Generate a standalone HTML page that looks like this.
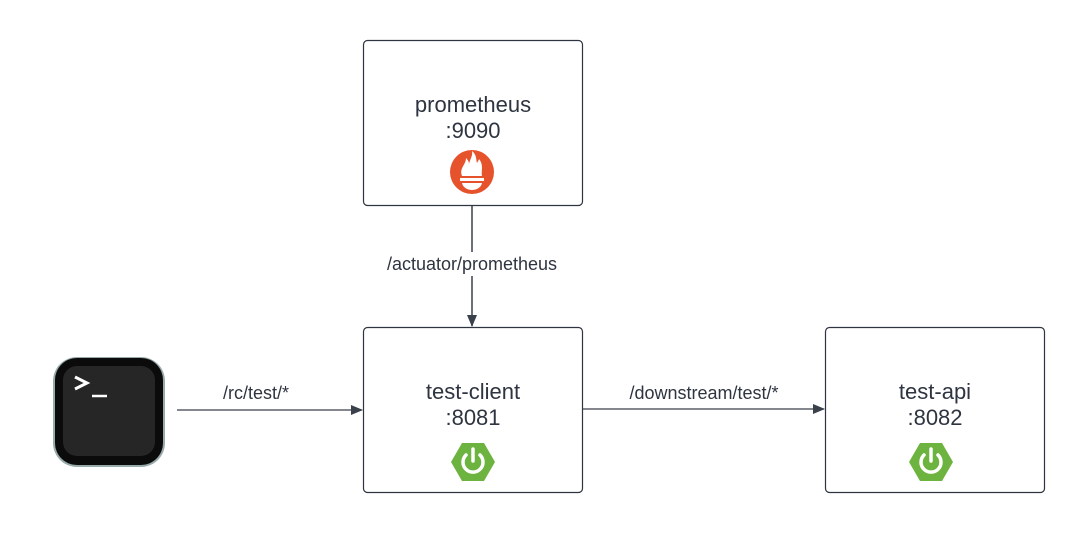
<!DOCTYPE html>
<html><head><style>
body{margin:0;background:#fff;width:1085px;height:533px;overflow:hidden;font-family:"Liberation Sans",sans-serif;}
</style></head><body>
<svg width="1085" height="533" xmlns="http://www.w3.org/2000/svg" font-family="Liberation Sans, sans-serif">
<defs><marker id="a" markerWidth="12" markerHeight="10" refX="11" refY="5" orient="auto" markerUnits="userSpaceOnUse"><path d="M0,0 L12,5 L0,10 Z" fill="#3a414a"/></marker></defs>
<rect x="363.5" y="40.5" width="219" height="165" rx="4" fill="#fff" stroke="#2e3440" stroke-width="1.2"/>
<rect x="363.5" y="327.5" width="219" height="165" rx="4" fill="#fff" stroke="#2e3440" stroke-width="1.2"/>
<rect x="825.5" y="327.5" width="219" height="165" rx="4" fill="#fff" stroke="#2e3440" stroke-width="1.2"/>
<g font-size="22" fill="#2e3440" text-anchor="middle">
<text x="473" y="112">prometheus</text><text x="473" y="138">:9090</text>
<text x="473" y="399">test-client</text><text x="473" y="425">:8081</text>
<text x="935" y="399">test-api</text><text x="935" y="425">:8082</text>
</g>
<line x1="472" y1="206" x2="472" y2="326" stroke="#3a414a" stroke-width="1.5" marker-end="url(#a)"/>
<rect x="384" y="252" width="176" height="24" fill="#fff"/>
<text x="472" y="270" font-size="18" fill="#2e3440" text-anchor="middle">/actuator/prometheus</text>
<line x1="177" y1="410" x2="362" y2="410" stroke="#3a414a" stroke-width="1.2" marker-end="url(#a)"/>
<text x="256" y="399" font-size="18" fill="#2e3440" text-anchor="middle">/rc/test/*</text>
<line x1="583" y1="409" x2="824" y2="409" stroke="#3a414a" stroke-width="1.2" marker-end="url(#a)"/>
<text x="704" y="399" font-size="18" fill="#2e3440" text-anchor="middle">/downstream/test/*</text>
<circle cx="472" cy="172" r="22" fill="#e6522c"/>
<path d="M462,176 C459,168 466,165 466,158 C469,161 469,163 469,164 C470,159 473,156 472,151 C477,155 476,160 477,163 C478,161 479,160 479,159 C484,165 481,171 482,176 Z" fill="#fff"/>
<rect x="460" y="178" width="24" height="3" fill="#fff"/>
<path d="M462,183 H482 C481,188 476,190 472,190 C468,190 463,188 462,183 Z" fill="#fff"/>
<g id="sp">
<polygon points="462,443 484,443 495,462 484,481 462,481 451,462" fill="#6db33f"/>
<path d="M466,455 A10,10 0 1 0 480,455" fill="none" stroke="#fff" stroke-width="3.5" stroke-linecap="round"/>
<line x1="473" y1="449" x2="473" y2="461" stroke="#fff" stroke-width="3.5" stroke-linecap="round"/>
</g>
<use href="#sp" x="458" y="0"/>
<rect x="53" y="357" width="112" height="110" rx="24" fill="#9aa" />
<rect x="55" y="358" width="108" height="107" rx="22" fill="#0b0b0b"/>
<rect x="63" y="366" width="92" height="90" rx="14" fill="#262626"/>
<path d="M75,377 L87,383 L75,389" fill="none" stroke="#fff" stroke-width="3"/>
<line x1="92" y1="396" x2="107" y2="396" stroke="#fff" stroke-width="2.5"/>
</svg>
</body></html>
